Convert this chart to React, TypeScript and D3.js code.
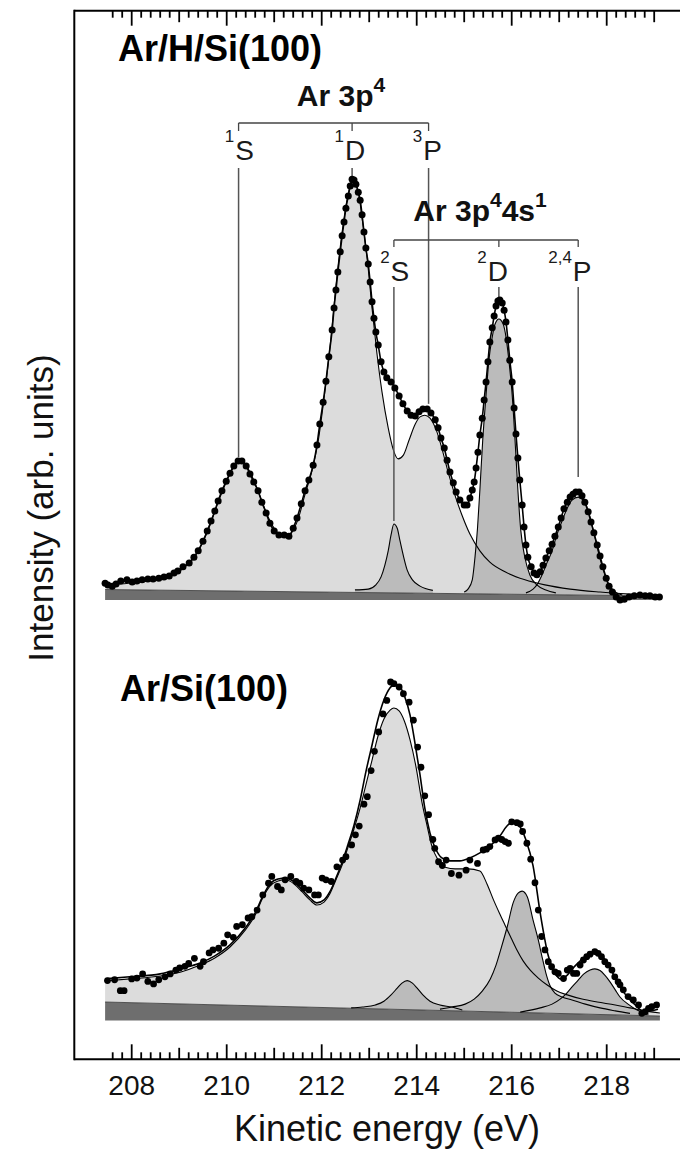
import React from "react";
import * as d3 from "d3";

type P = [number, number];

// ---------- x axis ----------
const X_LABELS = [208, 210, 212, 214, 216, 218];
const X_TICK_FIRST = 207.6;
const X_TICK_COUNT = 58; // 207.6 ... 219.0, every 0.2 eV
const X_TICK_STEP = 0.2;

// ---------- Ar/H/Si(100) (upper spectrum) : [kinetic energy eV, intensity] ----------
const topData: P[] = [
  [207.44,4.0],[207.50,3.6],[207.59,3.3],[207.67,3.8],[207.77,4.5],[207.90,4.8],[208.01,4.3],[208.11,4.5],[208.22,4.8],[208.34,5.0],
  [208.45,5.0],[208.57,5.2],[208.68,5.5],[208.79,5.7],[208.89,6.4],[208.97,6.9],[209.08,7.9],[209.21,8.8],[209.31,10.2],[209.40,11.7],
  [209.50,14.0],[209.59,16.4],[209.67,18.8],[209.75,21.2],[209.82,23.6],[209.90,26.0],[209.99,28.3],[210.07,30.2],[210.15,31.9],[210.24,33.1],
  [210.32,33.1],[210.41,31.9],[210.49,30.0],[210.57,28.1],[210.66,26.0],[210.74,23.3],[210.83,20.7],[210.91,18.3],[211.00,16.4],[211.10,15.5],
  [211.21,15.5],[211.31,15.2],[211.40,17.1],[211.48,19.5],[211.57,22.9],[211.65,26.0],[211.73,28.6],[211.82,32.1],[211.90,36.9],[211.96,41.9],
  [212.03,47.1],[212.09,52.1],[212.15,57.9],[212.22,64.3],[212.26,69.5],[212.30,73.8],[212.34,78.1],[212.39,82.9],[212.43,86.7],[212.47,90.0],
  [212.51,93.3],[212.56,96.2],[212.60,98.6],[212.64,100.2],[212.68,100.0],[212.72,99.0],[212.77,97.1],[212.81,95.2],[212.85,91.7],[212.89,87.6],
  [212.93,83.8],[212.98,80.0],[213.02,75.7],[213.06,71.0],[213.10,67.1],[213.14,63.8],[213.19,60.7],[213.25,56.7],[213.31,54.3],[213.37,52.9],
  [213.46,51.9],[213.54,50.5],[213.63,48.6],[213.71,46.7],[213.80,45.0],[213.88,44.0],[213.97,43.8],[214.05,44.8],[214.13,45.5],[214.22,45.5],
  [214.30,44.5],[214.39,42.9],[214.45,41.0],[214.51,38.6],[214.58,36.2],[214.64,33.3],[214.70,30.5],[214.77,27.9],[214.83,25.7],[214.91,23.8],
  [215.00,22.6],[215.06,22.6],[215.12,24.3],[215.17,26.2],[215.21,28.1],[215.25,31.4],[215.29,35.2],[215.33,39.3],[215.38,43.3],[215.42,47.6],
  [215.46,51.9],[215.50,56.7],[215.54,61.4],[215.59,64.8],[215.63,67.6],[215.67,70.0],[215.71,71.2],[215.75,71.4],[215.80,70.7],[215.84,69.0],
  [215.88,66.2],[215.92,61.9],[215.96,57.1],[216.01,51.9],[216.05,45.7],[216.09,39.5],[216.13,33.8],[216.17,28.6],[216.22,22.6],[216.26,17.4],
  [216.30,13.1],[216.34,10.2],[216.41,7.9],[216.47,6.4],[216.53,6.0],[216.60,6.7],[216.66,8.3],[216.72,10.0],[216.79,11.7],[216.85,13.3],
  [216.91,15.2],[216.98,17.4],[217.04,19.5],[217.10,21.7],[217.17,23.3],[217.23,24.5],[217.29,25.2],[217.35,25.7],[217.42,25.7],[217.48,24.8],
  [217.54,23.3],[217.61,21.0],[217.67,18.6],[217.73,16.0],[217.80,13.1],[217.86,10.5],[217.92,7.9],[217.99,5.2],[218.05,3.3],[218.12,1.9],
  [218.20,0.7],[218.28,0.0],[218.37,0.2],[218.47,0.7],[218.58,1.0],[218.70,1.2],[218.81,1.0],[218.91,1.0],[219.02,0.7],[219.11,0.7],
];
// sum of the Ar 3p^4 components (1S + 1D + 3P)
const topEnvelope: P[] = [
  [207.44,3.6],[207.75,3.8],[208.17,4.3],[208.60,5.0],[208.91,6.2],[209.19,8.6],[209.40,11.7],[209.61,16.7],[209.82,23.3],[209.99,28.1],
  [210.13,31.4],[210.26,32.9],[210.38,32.4],[210.53,29.5],[210.70,24.8],[210.87,19.8],[211.04,16.4],[211.21,15.0],[211.36,16.0],[211.51,19.5],
  [211.65,25.2],[211.80,31.0],[211.93,38.1],[212.05,48.1],[212.18,60.7],[212.30,74.8],[212.43,87.6],[212.54,95.7],[212.64,99.5],[212.75,98.1],
  [212.85,91.0],[212.96,81.0],[213.06,69.5],[213.16,59.0],[213.27,49.5],[213.40,41.0],[213.51,35.7],[213.61,33.6],[213.72,34.5],[213.84,38.1],
  [213.97,41.9],[214.07,43.6],[214.17,44.0],[214.28,43.3],[214.41,40.5],[214.54,35.7],[214.66,30.5],[214.81,24.8],[214.96,20.0],[215.12,15.7],
  [215.33,11.7],[215.54,9.0],[215.86,6.7],[216.28,4.8],[216.70,3.6],[217.23,2.6],[217.86,1.9],[218.49,1.4],[219.13,1.0],
];
const top2S: P[] = [
  [212.70,2.4],[212.98,2.6],[213.14,3.6],[213.25,5.5],[213.33,8.3],[213.40,11.7],[213.46,15.5],[213.52,18.1],[213.59,17.1],[213.65,14.0],
  [213.72,10.5],[213.80,7.1],[213.91,4.8],[214.07,3.3],[214.34,2.3],
];
const top2D: P[] = [
  [215.00,1.9],[215.08,2.6],[215.17,4.8],[215.23,10.5],[215.28,17.1],[215.33,26.2],[215.39,38.1],[215.46,48.8],[215.52,57.1],[215.59,62.6],
  [215.65,65.7],[215.73,66.9],[215.82,65.7],[215.88,62.6],[215.94,57.1],[216.01,48.8],[216.07,38.1],[216.13,26.2],[216.19,16.7],[216.28,10.0],
  [216.38,6.0],[216.53,3.6],[216.72,2.4],[216.93,1.7],
];
const top24P: P[] = [
  [216.30,1.7],[216.45,2.6],[216.53,3.6],[216.64,6.0],[216.74,8.8],[216.85,11.7],[216.95,15.5],[217.06,18.8],[217.17,21.9],[217.27,23.8],
  [217.40,24.5],[217.52,23.6],[217.63,20.5],[217.73,16.0],[217.84,10.7],[217.95,6.4],[218.05,3.6],[218.18,1.9],[218.33,1.2],
];
const topBackground: P[] = [[207.44,2.5],[219.12,0.95]];

// ---------- Ar/Si(100) (lower spectrum) ----------
const botData: P[] = [
  [207.49,9.5],[207.64,9.7],[207.76,7.1],[207.84,7.1],[208.00,9.9],[208.11,10.1],[208.23,11.1],[208.34,9.3],[208.46,8.7],[208.57,9.7],
  [208.70,10.4],[208.81,11.1],[208.93,12.0],[209.01,12.5],[209.12,12.9],[209.20,13.6],[209.32,14.8],[209.44,12.9],[209.51,14.0],[209.63,16.1],
  [209.71,16.8],[209.83,17.2],[209.94,18.4],[210.02,20.4],[210.14,19.8],[210.21,22.4],[210.33,22.8],[210.45,24.4],[210.53,24.7],[210.64,26.3],
  [210.76,29.9],[210.88,32.7],[210.95,34.3],[211.07,31.9],[211.15,31.1],[211.23,33.5],[211.35,34.3],[211.46,33.1],[211.54,32.7],[211.62,31.5],
  [211.73,31.1],[211.85,29.9],[211.93,29.9],[212.01,33.9],[212.09,33.5],[212.20,33.1],[212.32,36.6],[212.44,38.2],[212.51,39.0],[212.63,41.8],
  [212.71,44.2],[212.79,46.3],[212.89,51.5],[212.96,53.3],[213.04,59.5],[213.11,64.1],[213.20,68.7],[213.29,73.0],[213.37,76.2],[213.45,80.6],
  [213.52,80.2],[213.63,79.4],[213.72,77.8],[213.84,75.8],[213.93,71.5],[214.02,65.1],[214.09,60.3],[214.17,53.5],[214.25,49.0],[214.34,43.1],
  [214.38,41.0],[214.46,37.8],[214.54,36.9],[214.62,38.2],[214.73,35.0],[214.89,34.6],[215.04,35.8],[215.12,38.2],[215.28,37.4],[215.40,40.6],
  [215.47,40.8],[215.54,41.4],[215.65,43.0],[215.72,43.4],[215.79,43.1],[215.86,42.6],[215.93,42.2],[216.00,47.3],[216.11,47.1],[216.18,46.8],
  [216.23,45.0],[216.32,42.2],[216.40,38.4],[216.49,32.8],[216.56,26.3],[216.63,20.0],[216.70,16.8],[216.77,14.0],[216.84,12.8],[216.91,11.6],
  [216.98,11.2],[217.09,10.0],[217.17,12.0],[217.23,12.4],[217.30,11.2],[217.37,11.2],[217.44,13.2],[217.51,14.4],[217.58,15.2],[217.65,15.8],
  [217.75,16.4],[217.82,16.0],[217.89,15.2],[217.96,14.0],[218.03,13.2],[218.11,12.0],[218.17,10.4],[218.24,9.2],[218.28,8.5],[218.35,7.3],
  [218.45,5.7],[218.56,4.9],[218.67,3.7],[218.74,1.7],[218.81,2.1],[218.88,2.9],[218.95,3.3],[219.05,3.7],
];
const botFit: P[] = [
  [207.44,9.9],[207.96,10.4],[208.60,11.1],[209.02,12.3],[209.44,13.7],[209.75,15.4],[210.07,18.0],[210.39,22.0],[210.60,25.6],[210.76,29.6],
  [210.91,32.5],[211.08,33.7],[211.25,33.9],[211.42,33.0],[211.59,31.1],[211.75,29.2],[211.90,28.0],[212.05,28.7],[212.17,30.6],[212.30,33.9],
  [212.43,37.7],[212.55,41.8],[212.68,46.5],[212.81,52.5],[212.93,59.2],[213.06,65.6],[213.18,71.5],[213.31,76.3],[213.44,79.2],[213.54,80.1],
  [213.65,79.4],[213.75,77.0],[213.86,72.7],[213.96,66.3],[214.07,58.5],[214.17,50.6],[214.28,44.6],[214.41,40.6],[214.53,38.7],[214.70,38.0],
  [214.91,38.0],[215.12,38.7],[215.33,39.9],[215.54,41.5],[215.75,43.9],[215.90,46.3],[216.03,47.3],[216.15,46.5],[216.30,43.0],[216.45,36.8],
  [216.60,25.6],[216.77,15.4],[216.91,11.3],[217.04,9.9],[217.17,10.8],[217.31,12.7],[217.46,14.4],[217.61,15.6],[217.73,16.1],[217.86,15.6],
  [218.01,13.9],[218.15,10.8],[218.30,7.7],[218.45,5.4],[218.60,3.7],[218.76,2.3],[218.91,2.3],[219.08,2.7],
];
const botEnvelope: P[] = [
  [207.44,9.4],[207.96,9.9],[208.60,10.6],[209.02,11.5],[209.44,13.2],[209.75,14.9],[210.07,17.5],[210.39,21.5],[210.60,25.1],[210.76,29.2],
  [210.91,32.0],[211.08,33.2],[211.25,33.5],[211.42,32.5],[211.59,30.6],[211.75,28.7],[211.90,27.5],[212.05,28.2],[212.17,30.1],[212.30,33.5],
  [212.43,37.0],[212.55,41.1],[212.68,45.6],[212.81,50.6],[212.93,56.1],[213.06,62.0],[213.18,67.5],[213.31,71.8],[213.44,73.9],[213.52,74.4],
  [213.63,73.7],[213.74,71.3],[213.86,66.8],[213.99,60.1],[214.11,52.0],[214.22,46.3],[214.32,41.5],[214.45,38.2],[214.60,36.5],[214.81,36.1],
  [215.08,36.1],[215.33,35.6],[215.48,32.5],[215.61,28.9],[215.74,25.6],[215.86,22.7],[215.99,19.6],[216.11,16.8],[216.24,14.2],[216.39,12.0],
  [216.56,10.1],[216.74,8.5],[216.95,7.0],[217.17,6.1],[217.48,5.1],[217.80,4.4],[218.18,3.7],[218.49,3.0],[218.81,2.3],[219.12,1.8],
];
const bot2S: P[] = [
  [212.62,3.0],[212.86,3.2],[213.13,3.7],[213.31,4.6],[213.46,6.1],[213.59,7.7],[213.69,8.9],[213.80,9.5],[213.91,8.9],[214.01,7.7],
  [214.13,6.1],[214.28,4.6],[214.49,3.7],[214.74,3.2],[214.96,2.5],
];
const bot2D: P[] = [
  [214.49,2.7],[214.74,3.2],[215.02,3.9],[215.21,5.1],[215.38,7.0],[215.55,9.9],[215.67,13.2],[215.78,17.3],[215.91,22.5],[216.03,28.0],
  [216.14,30.4],[216.22,30.8],[216.33,29.4],[216.45,23.9],[216.56,19.2],[216.64,15.1],[216.72,11.3],[216.81,8.2],[216.91,6.5],[217.06,5.6],
  [217.27,4.9],[217.55,3.9],[217.86,3.0],[218.18,2.3],[218.49,1.7],
];
const bot24P: P[] = [
  [216.18,2.0],[216.60,3.0],[216.85,3.9],[217.02,5.1],[217.14,6.3],[217.27,8.0],[217.40,9.6],[217.52,11.1],[217.65,12.0],[217.75,12.3],
  [217.86,11.9],[217.96,10.8],[218.07,9.2],[218.18,7.3],[218.28,5.6],[218.45,3.9],[218.64,2.5],[218.88,1.5],
];
const botBackground: P[] = [[207.44,4.4],[219.12,1.07]];

// ---------- level annotations (upper spectrum) ----------
const LEVELS = [
  { sup: "1", name: "S", e: 210.25, end: 34.0, row: 0 },
  { sup: "1", name: "D", e: 212.64, end: 100.5, row: 0 },
  { sup: "3", name: "P", e: 214.25, end: 46.7, row: 0 },
  { sup: "2", name: "S", e: 213.52, end: 18.8, row: 1 },
  { sup: "2", name: "D", e: 215.73, end: 72.1, row: 1 },
  { sup: "2,4", name: "P", e: 217.4, end: 29.3, row: 1 },
];

const FONT = "'Liberation Sans', Arial, Helvetica, sans-serif";

const x = d3.scaleLinear().domain([208, 218]).range([131.7, 606.7]);
const yTop = d3.scaleLinear().domain([0, 100]).range([600, 180]);
const yBot = d3.scaleLinear().domain([0, 100]).range([1020.5, 600.5]);

const LIGHT = "#dcdcdc";
const MID = "#bbbbbb";
const DARK = "#6e6e6e";

function Panel(props: {
  y: d3.ScaleLinear<number, number>;
  data: P[];
  fit: P[];
  env: P[];
  comps: P[][];
  bg: P[];
  r: number;
  children?: React.ReactNode;
}) {
  const { y, data, fit, env, comps, bg, r } = props;
  const bgScale = d3.scaleLinear().domain(bg.map((d) => d[0])).range(bg.map((d) => d[1]));
  const area = d3
    .area<P>()
    .x((d) => x(d[0]))
    .y0((d) => y(bgScale(d[0])))
    .y1((d) => y(d[1]))
    .curve(d3.curveMonotoneX);
  const line = d3
    .line<P>()
    .x((d) => x(d[0]))
    .y((d) => y(d[1]))
    .curve(d3.curveMonotoneX);
  const e0 = bg[0][0];
  const e1 = bg[1][0];
  const band = `M${x(e0)},${y(0)}L${x(e1)},${y(0)}L${x(e1)},${y(bg[1][1])}L${x(e0)},${y(bg[0][1])}Z`;
  return (
    <g>
      <path d={band} fill={DARK} />
      <path d={area(env) || ""} fill={LIGHT} />
      {comps.map((c, i) => (
        <path key={"ca" + i} d={area(c) || ""} fill={MID} />
      ))}
      <line x1={x(e0)} x2={x(e1)} y1={y(bg[0][1])} y2={y(bg[1][1])} stroke="#333" strokeWidth={0.8} />
      {comps.map((c, i) => (
        <path key={"cl" + i} d={line(c) || ""} fill="none" stroke="#000" strokeWidth={1.1} />
      ))}
      <path d={line(env) || ""} fill="none" stroke="#000" strokeWidth={1.1} />
      {props.children}
      <path d={line(fit) || ""} fill="none" stroke="#000" strokeWidth={1.6} />
      {data.map((d, i) => (
        <circle key={i} cx={x(d[0])} cy={y(d[1])} r={r} fill="#000" />
      ))}
    </g>
  );
}

export default function App() {
  const ticks = d3.range(X_TICK_COUNT).map((i) => +(X_TICK_FIRST + i * X_TICK_STEP).toFixed(1));
  const tickKind = (t: number) => {
    const n = Math.round(t);
    if (Math.abs(t - n) > 0.01) return 0;
    return n % 2 === 0 ? 2 : 1;
  };
  const TOP = 10.7;
  const BOT = 1059.3;
  const LEFT = 74.3;
  const tickLen = [7, 11.5, 15];

  const rowLabelY = [160, 281];
  const rowLineTop = [168, 287];
  const letterOffset: Record<string, number> = { S: 6, D: 3, P: 4 };
  const letterHalf: Record<string, number> = { S: 9.3, D: 10.1, P: 9.3 };

  const levelEl = LEVELS.map((l, i) => {
    const cx = x(l.e);
    const off = l.row === 1 && l.name === "D" ? -1 : letterOffset[l.name];
    const by = rowLabelY[l.row];
    return (
      <g key={"lv" + i}>
        <line x1={cx} x2={cx} y1={rowLineTop[l.row]} y2={yTop(l.end)} stroke="#555" strokeWidth={1.5} />
        <text x={cx + off} y={by} fontSize={28} textAnchor="middle" fill="#1a1a1a" fontFamily={FONT}>
          {l.name}
        </text>
        <text x={cx + off - letterHalf[l.name] - 1} y={by - 18} fontSize={17} textAnchor="end" fill="#1a1a1a" fontFamily={FONT}>
          {l.sup}
        </text>
      </g>
    );
  });

  const b1 = [x(LEVELS[0].e), x(LEVELS[1].e), x(LEVELS[2].e)];
  const b2 = [x(LEVELS[3].e), x(LEVELS[4].e), x(LEVELS[5].e)];
  const br1Y = 123;
  const br2Y = 240;

  return (
    <svg
      width={680}
      height={1155}
      viewBox="0 0 680 1155"
      style={{ position: "absolute", left: 0, top: 0, background: "#fff" }}
    >
      <rect x={0} y={0} width={680} height={1155} fill="#fff" />

      <Panel y={yTop} data={topData} fit={topData} env={topEnvelope} comps={[top2S, top2D, top24P]} bg={topBackground} r={3.5}>
        {levelEl}
      </Panel>
      <Panel y={yBot} data={botData} fit={botFit} env={botEnvelope} comps={[bot2S, bot2D, bot24P]} bg={botBackground} r={3.4} />

      {/* brackets */}
      <g stroke="#444" strokeWidth={1.3} fill="none">
        <line x1={b1[0]} x2={b1[2]} y1={br1Y} y2={br1Y} />
        {b1.map((bx, i) => (
          <line key={"b1" + i} x1={bx} x2={bx} y1={br1Y} y2={br1Y + 8} />
        ))}
        <line x1={b2[0]} x2={b2[2]} y1={br2Y} y2={br2Y} />
        {b2.map((bx, i) => (
          <line key={"b2" + i} x1={bx} x2={bx} y1={br2Y} y2={br2Y + 7} />
        ))}
      </g>
      <text x={341} y={106} fontSize={30} fontWeight="bold" textAnchor="middle" fontFamily={FONT} fill="#111">
        Ar 3p
        <tspan dy={-14} fontSize={21}>4</tspan>
      </text>
      <text x={480} y={221} fontSize={30} fontWeight="bold" textAnchor="middle" fontFamily={FONT} fill="#111">
        Ar 3p
        <tspan dy={-14} fontSize={21}>4</tspan>
        <tspan dy={14}>4s</tspan>
        <tspan dy={-14} fontSize={21}>1</tspan>
      </text>

      {/* panel titles */}
      <text x={118} y={61} fontSize={36} fontWeight="bold" fontFamily={FONT} fill="#000">
        Ar/H/Si(100)
      </text>
      <text x={120} y={701} fontSize={36} fontWeight="bold" fontFamily={FONT} fill="#000">
        Ar/Si(100)
      </text>

      {/* frame */}
      <g stroke="#000" strokeWidth={2} fill="none">
        <line x1={LEFT} x2={680} y1={TOP} y2={TOP} />
        <line x1={LEFT} x2={680} y1={BOT} y2={BOT} />
        <line x1={LEFT} x2={LEFT} y1={TOP - 1} y2={BOT + 1} />
      </g>
      <g stroke="#000" strokeWidth={1.8}>
        {ticks.map((t, i) => {
          const k = tickKind(t);
          const xx = x(t);
          return (
            <g key={"t" + i}>
              <line x1={xx} x2={xx} y1={TOP} y2={TOP + tickLen[k]} />
              <line x1={xx} x2={xx} y1={BOT} y2={BOT - tickLen[k]} />
            </g>
          );
        })}
      </g>
      {X_LABELS.map((v) => (
        <text key={"xl" + v} x={x(v)} y={1095} fontSize={28} textAnchor="middle" fontFamily={FONT} fill="#111">
          {v}
        </text>
      ))}
      <text x={387} y={1141} fontSize={36} textAnchor="middle" fontFamily={FONT} fill="#111">
        Kinetic energy (eV)
      </text>
      <text
        transform="translate(53,508) rotate(-90)"
        fontSize={35}
        textAnchor="middle"
        fontFamily={FONT}
        fill="#111"
      >
        Intensity (arb. units)
      </text>
    </svg>
  );
}
